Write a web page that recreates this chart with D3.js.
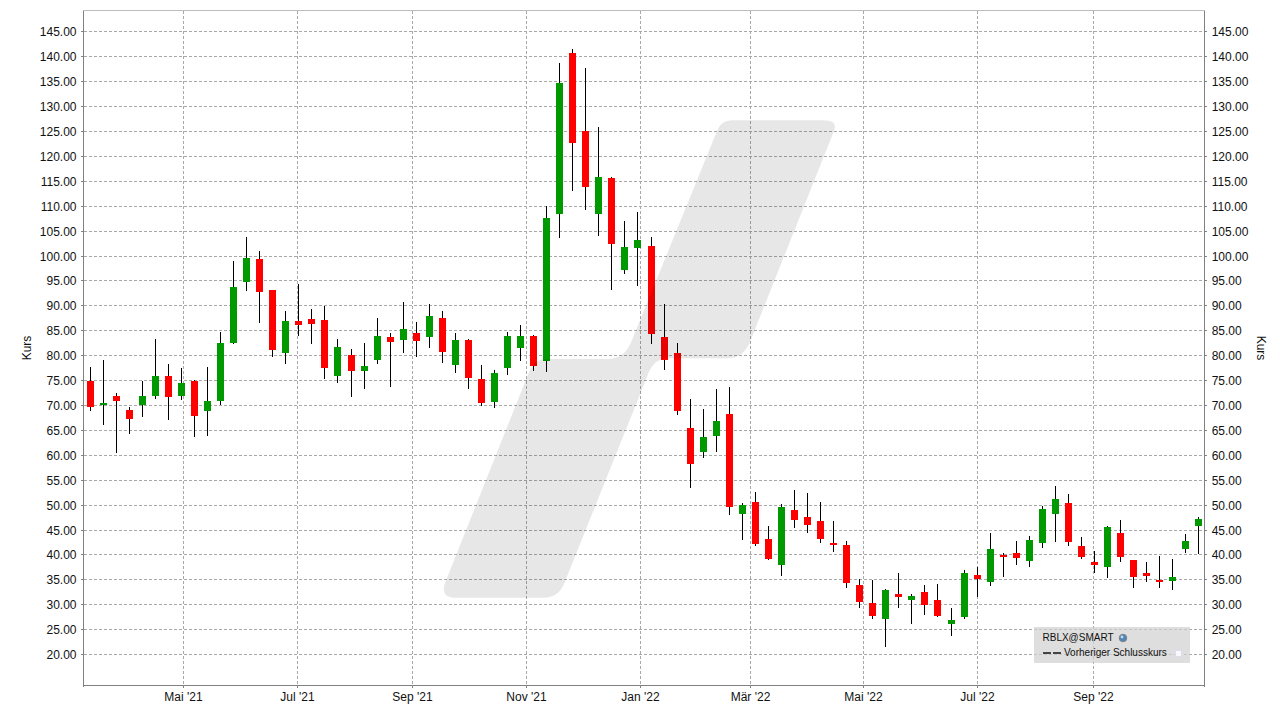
<!DOCTYPE html>
<html>
<head>
<meta charset="utf-8">
<script src="https://cdn.jsdelivr.net/npm/d3@7/dist/d3.min.js"></script>
<style>
html,body{margin:0;padding:0;background:#fff;overflow:hidden}
svg{display:block}
text{font-family:"Liberation Sans",Arial,sans-serif;fill:#111}
</style>
</head>
<body>
<svg id="chart" width="1280" height="719"></svg>
<script>
const opens  = [74.82,70.00,71.81,69.00,70.00,71.81,75.82,71.81,74.82,68.80,70.80,82.45,94.70,99.31,93.09,80.45,86.87,87.27,87.07,75.82,80.04,76.83,79.04,83.65,83.05,84.46,83.65,87.47,78.04,83.05,75.22,70.60,77.43,81.45,83.85,78.84,108.35,140.67,125.01,108.35,115.58,97.11,101.53,101.93,83.65,80.44,65.38,60.56,63.77,68.19,48.12,50.53,43.10,37.88,48.92,47.52,46.71,42.29,41.89,33.87,30.25,27.04,32.06,30.85,32.46,30.85,26.03,27.44,35.87,34.47,39.89,40.29,38.68,42.29,48.12,50.33,41.69,38.48,37.48,44.30,38.88,36.27,34.87,34.67,41.09,45.71];
const highs  = [77.63,79.03,72.41,69.60,74.82,83.25,78.23,77.43,75.02,77.63,84.66,98.91,103.72,100.92,93.09,88.87,94.29,89.27,89.87,83.25,81.25,82.45,87.47,84.46,90.68,86.66,90.28,88.87,84.46,83.25,78.04,77.03,84.66,86.06,84.06,109.96,138.66,141.47,137.66,125.82,115.78,106.95,108.75,103.72,90.28,82.45,71.21,69.20,73.21,73.61,50.33,52.53,45.71,50.13,52.94,52.33,50.53,46.71,42.69,35.07,34.87,33.06,36.27,32.06,33.87,34.07,29.25,36.87,37.48,44.30,40.29,42.69,43.70,49.72,53.74,52.13,43.50,40.69,45.71,46.92,38.88,38.48,39.68,39.08,44.10,47.51];
const lows   = [68.80,65.99,60.37,64.18,67.59,71.20,66.99,71.00,63.58,63.78,70.00,82.25,92.89,86.46,79.64,78.24,83.85,82.25,75.22,74.42,71.61,73.21,78.24,73.61,80.45,79.64,81.45,78.44,76.43,73.21,69.80,69.40,76.03,78.84,76.83,76.63,103.53,112.97,109.15,103.93,93.10,96.31,93.89,82.25,77.03,67.99,53.34,59.36,60.56,47.92,42.90,41.69,38.89,35.70,45.31,44.30,42.29,40.42,33.26,29.25,27.04,21.42,29.25,26.03,27.84,27.44,23.62,27.04,31.45,33.66,35.47,37.88,37.48,41.29,42.50,41.69,39.08,36.27,35.27,38.48,33.26,34.47,33.26,32.86,40.29,40.09];
const closes = [69.60,70.40,70.80,67.19,71.81,75.82,71.61,74.42,67.79,70.80,82.45,93.69,99.52,92.69,81.05,86.87,86.06,86.26,77.43,81.65,76.83,77.83,83.85,82.65,85.26,82.85,87.87,80.65,83.05,75.42,70.40,76.43,83.85,83.85,77.83,107.54,134.65,122.60,113.77,115.78,102.33,101.73,103.13,84.26,79.04,68.80,58.16,63.57,66.79,49.52,49.93,42.09,39.08,49.52,46.92,45.91,43.10,41.89,34.26,30.45,27.64,32.86,31.45,31.65,29.85,27.64,26.84,36.27,35.07,41.09,39.49,39.29,42.90,49.12,51.13,42.50,39.49,37.88,45.50,39.49,35.47,35.67,34.47,35.47,42.69,47.11];
const priceTicks = [20,25,30,35,40,45,50,55,60,65,70,75,80,85,90,95,100,105,110,115,120,125,130,135,140,145];
const monthTicks = ["2021-05-01","2021-07-01","2021-09-01","2021-11-01","2022-01-01","2022-03-01","2022-05-01","2022-07-01","2022-09-01"];
const monthLabels = ["Mai '21","Jul '21","Sep '21","Nov '21","Jan '22","Mär '22","Mai '22","Jul '22","Sep '22"];
const firstWeek = "2021-03-12";
const lastWeek = "2022-10-28";
const axisTitle = "Kurs";
const legendTitle = "RBLX@SMART";
const legendEntry = "Vorheriger Schlusskurs";

const UP = "#009900", DOWN = "#ff0000", AXIS = "#808080", GRID = "#a8a8a8";
const box = {left: 83, right: 1204, top: 10, bottom: 685};

const parse = d3.utcParse("%Y-%m-%d");
const weeks = opens.map((_, i) => d3.utcDay.offset(parse(firstWeek), 7 * i));
const tickDates = monthTicks.map(parse);

const x = d3.scaleUtc().domain([parse(firstWeek), parse(lastWeek)]).range([90.15, 1198.85]);
const y = d3.scaleLinear().domain([20, 145]).range([654.03, 31.4]);
const col = d => Math.floor(x(d));          // candle pixel column
const tcol = d => Math.floor(x(d) + 0.45);  // month tick pixel column
const row = v => Math.round(y(v));          // pixel row

const svg = d3.select("#chart");

// plot background + grid
svg.append("rect").attr("x", box.left + .5).attr("y", box.top + .5)
  .attr("width", box.right - box.left).attr("height", box.bottom - box.top)
  .attr("fill", "#fff").attr("stroke", "#bdbdbd").attr("shape-rendering", "crispEdges");

const grid = svg.append("g").attr("shape-rendering", "crispEdges")
  .attr("stroke", GRID).attr("stroke-dasharray", "3,2").attr("fill", "none");
grid.selectAll("line.h").data(priceTicks).join("line").attr("class", "h")
  .attr("x1", box.left + 1).attr("x2", box.right)
  .attr("y1", d => row(d) + .5).attr("y2", d => row(d) + .5);
grid.selectAll("line.v").data(tickDates).join("line").attr("class", "v")
  .attr("x1", d => tcol(d) + .5).attr("x2", d => tcol(d) + .5)
  .attr("y1", box.top + 1).attr("y2", box.bottom);

// candles
const candles = svg.append("g").selectAll("g").data(weeks).join("g");
candles.append("rect").attr("shape-rendering", "crispEdges")
  .attr("x", d => col(d)).attr("width", 1)
  .attr("y", (d, i) => row(highs[i]))
  .attr("height", (d, i) => Math.max(1, row(lows[i]) - row(highs[i])))
  .attr("fill", "#000");
candles.append("rect").attr("shape-rendering", "crispEdges")
  .attr("x", d => col(d) - 3).attr("width", 7)
  .attr("y", (d, i) => row(Math.max(opens[i], closes[i])))
  .attr("height", (d, i) => Math.max(1, row(Math.min(opens[i], closes[i])) - row(Math.max(opens[i], closes[i]))))
  .attr("fill", (d, i) => closes[i] >= opens[i] ? UP : DOWN);

// watermark
svg.append("path")
  .attr("d", "M445 583L529 372Q534 359 547 359L608 359Q625 359 632 340L717 131Q721 120.3 732 120.3L824 120.3Q838 120.3 834 131L750 342Q743 358.3 728 358.3L668 358.3Q653 358.3 647 377L564 584Q558 597.7 544 597.7L456 597.7Q440 597.7 445 583Z")
  .attr("fill", "#000").attr("fill-opacity", 0.094);

// axes
function styleAxis(g) {
  g.select(".domain").remove();
  g.selectAll(".tick line").attr("stroke", AXIS).attr("shape-rendering", "crispEdges");
  g.selectAll(".tick text").attr("font-size", 12).style("font-family", '"Liberation Sans",Arial,sans-serif').attr("fill", "#111");
}
const gLeft = svg.append("g").attr("transform", `translate(${box.left},0)`)
  .call(d3.axisLeft(y).tickValues(priceTicks).tickSize(2).tickPadding(4).tickFormat(d3.format(".2f")))
  .call(styleAxis);
gLeft.selectAll(".tick").attr("transform", d => `translate(0,${row(d) + .5})`);
gLeft.selectAll(".tick text").attr("dy", null).attr("y", 4.5).attr("x", -6.5);

const gRight = svg.append("g").attr("transform", `translate(${box.right},0)`)
  .call(d3.axisRight(y).tickValues(priceTicks).tickSize(3).tickPadding(4).tickFormat(d3.format(".2f")))
  .call(styleAxis);
gRight.selectAll(".tick").attr("transform", d => `translate(0,${row(d) + .5})`);
gRight.selectAll(".tick text").attr("dy", null).attr("y", 4.5).attr("x", 7.7);

const gBottom = svg.append("g").attr("transform", `translate(0,${box.bottom})`)
  .call(d3.axisBottom(x).tickValues(tickDates).tickSize(3).tickFormat((d, i) => monthLabels[i]))
  .call(styleAxis);
gBottom.selectAll(".tick").attr("transform", d => `translate(${tcol(d) + .5},0)`);
gBottom.selectAll(".tick text").attr("dy", null).attr("y", 16);

svg.append("g").attr("stroke", AXIS).attr("shape-rendering", "crispEdges").selectAll("line")
  .data([[box.left, box.top, box.left, box.bottom + 1], [box.right, box.top, box.right, box.bottom + 1], [box.left, box.bottom, box.right, box.bottom]])
  .join("line")
  .attr("x1", d => d[0] + .5).attr("y1", d => d[1] + .5).attr("x2", d => d[2] + .5).attr("y2", d => d[3] + .5);

svg.append("text").attr("transform", "translate(31,348) rotate(-90)").attr("text-anchor", "middle").attr("font-size", 12).text(axisTitle);
svg.append("text").attr("transform", "translate(1257,348) rotate(90)").attr("text-anchor", "middle").attr("font-size", 12).text(axisTitle);

// legend
const leg = svg.append("g");
leg.append("rect").attr("x", 1034).attr("y", 627).attr("width", 156).attr("height", 36)
  .attr("fill", "#d0d0d0").attr("fill-opacity", 0.7);
leg.append("text").attr("x", 1042.5).attr("y", 641).attr("font-size", 10).text(legendTitle);
const globe = leg.append("g").attr("transform", "translate(1123,638)");
globe.append("circle").attr("r", 3.8).attr("fill", "#4f86b5").attr("stroke", "#7a7f86").attr("stroke-width", .9);
globe.append("circle").attr("cx", -1).attr("cy", -1).attr("r", 1.4).attr("fill", "#c4d9ea");
leg.append("line").attr("x1", 1043).attr("x2", 1061).attr("y1", 653).attr("y2", 653)
  .attr("stroke", "#444").attr("stroke-width", 2).attr("stroke-dasharray", "8,2").attr("shape-rendering", "crispEdges");
leg.append("text").attr("x", 1064).attr("y", 656).attr("font-size", 10).text(legendEntry);
leg.append("rect").attr("x", 1175.5).attr("y", 650.5).attr("width", 6).attr("height", 6)
  .attr("fill", "#f8f8fd").attr("stroke", "#dcdcee").attr("stroke-width", 1);
</script>
</body>
</html>
